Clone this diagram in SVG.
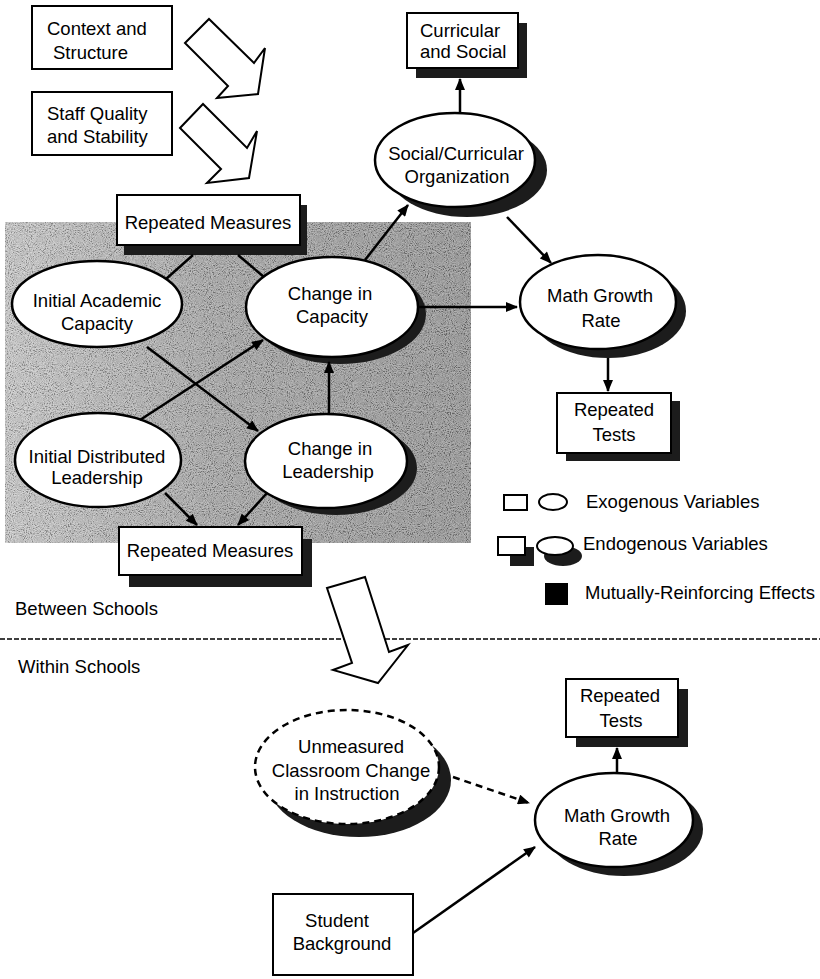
<svg xmlns="http://www.w3.org/2000/svg" width="820" height="979" viewBox="0 0 820 979">
<defs>
<style>
.t{font-family:"Liberation Sans",Arial,sans-serif;font-size:18.5px;fill:#000}
.c{text-anchor:middle}
.box{fill:#fff;stroke:#000;stroke-width:2}
.ell{fill:#fff;stroke:#000;stroke-width:2.5}
.sh{fill:#1c1c1c}
.ln{fill:none;stroke:#000;stroke-width:2.5}
.ar{fill:none;stroke:#000;stroke-width:2.5;marker-end:url(#ah)}
.blk{fill:#fff;stroke:#000;stroke-width:2;stroke-linejoin:miter}
</style>
<marker id="ah" viewBox="0 0 12 10" markerWidth="13" markerHeight="10" refX="11" refY="5" orient="auto" markerUnits="userSpaceOnUse">
<path d="M0,0 L12,5 L0,10 z" fill="#000"/>
</marker>
<linearGradient id="gg" x1="0" y1="0" x2="1" y2="0">
<stop offset="0" stop-color="#c8c8c8"/>
<stop offset="0.45" stop-color="#a2a2a2"/>
<stop offset="1" stop-color="#909090"/>
</linearGradient>
<filter id="noise" x="0" y="0" width="100%" height="100%">
<feTurbulence type="fractalNoise" baseFrequency="0.95" numOctaves="2" seed="4" result="t"/>
<feColorMatrix in="t" type="matrix" values="0.33 0.33 0.33 0 0  0.33 0.33 0.33 0 0  0.33 0.33 0.33 0 0  0 0 0 0 1" result="g"/>
<feComponentTransfer in="g">
<feFuncR type="linear" slope="4" intercept="-1.5"/>
<feFuncG type="linear" slope="4" intercept="-1.5"/>
<feFuncB type="linear" slope="4" intercept="-1.5"/>
</feComponentTransfer>
</filter>
</defs>
<rect x="0" y="0" width="820" height="979" fill="#fff"/>

<g id="between-schools-panel">
<rect x="5" y="222" width="466" height="321" fill="url(#gg)"/>
<rect x="5" y="222" width="466" height="321" filter="url(#noise)" opacity="0.3"/>
</g>

<g id="separator">
<line x1="0" y1="639" x2="820" y2="639" stroke="#000" stroke-width="1.6" stroke-dasharray="5,2"/>
<text class="t" x="15" y="615">Between Schools</text>
<text class="t" x="18" y="673">Within Schools</text>
</g>

<g id="context">
<rect class="box" x="32" y="6" width="140" height="63"/>
<text class="t" x="47" y="35">Context and</text>
<text class="t" x="53" y="59">Structure</text>
</g>
<g id="staff">
<rect class="box" x="32" y="92" width="140" height="63"/>
<text class="t" x="47" y="120">Staff Quality</text>
<text class="t" x="47" y="143">and Stability</text>
</g>

<g id="curricular-social">
<rect class="sh" x="416" y="23" width="111" height="55"/>
<rect class="box" x="407" y="13" width="111" height="55"/>
<text class="t" x="420" y="37">Curricular</text>
<text class="t" x="420" y="58">and Social</text>
</g>

<g id="social-curricular-org">
<ellipse class="sh" cx="467" cy="170" rx="80" ry="47"/>
<ellipse class="ell" cx="455" cy="160" rx="80" ry="47"/>
<text class="t c" x="456" y="160">Social/Curricular</text>
<text class="t c" x="457" y="183">Organization</text>
</g>

<g id="repeated-measures-top">
<rect class="sh" x="124" y="205" width="183" height="50"/>
<rect class="box" x="117" y="195" width="183" height="50"/>
<text class="t c" x="208" y="229">Repeated Measures</text>
</g>

<g id="initial-academic">
<ellipse class="ell" cx="97" cy="304" rx="85" ry="43"/>
<text class="t c" x="97" y="307">Initial Academic</text>
<text class="t c" x="97" y="330">Capacity</text>
</g>

<g id="change-capacity">
<ellipse class="sh" cx="340" cy="314" rx="86" ry="50"/>
<ellipse class="ell" cx="332" cy="307" rx="86" ry="50"/>
<text class="t c" x="330" y="300">Change in</text>
<text class="t c" x="332" y="323">Capacity</text>
</g>

<g id="initial-leadership">
<ellipse class="ell" cx="98" cy="460" rx="83" ry="47"/>
<text class="t c" x="97" y="463">Initial Distributed</text>
<text class="t c" x="97" y="484">Leadership</text>
</g>

<g id="change-leadership">
<ellipse class="sh" cx="336" cy="468" rx="81" ry="47"/>
<ellipse class="ell" cx="326" cy="461" rx="81" ry="47"/>
<text class="t c" x="330" y="455">Change in</text>
<text class="t c" x="328" y="478">Leadership</text>
</g>

<g id="repeated-measures-bottom">
<rect class="sh" x="129" y="539" width="183" height="48"/>
<rect class="box" x="119" y="527" width="183" height="48"/>
<text class="t c" x="210" y="557">Repeated Measures</text>
</g>

<g id="math-growth-top">
<ellipse class="sh" cx="608" cy="311" rx="78" ry="47"/>
<ellipse class="ell" cx="598" cy="302" rx="78" ry="47"/>
<text class="t c" x="600" y="302">Math Growth</text>
<text class="t c" x="601" y="327">Rate</text>
</g>

<g id="repeated-tests-top">
<rect class="sh" x="566" y="401" width="114" height="60"/>
<rect class="box" x="557" y="393" width="114" height="60"/>
<text class="t c" x="614" y="416">Repeated</text>
<text class="t c" x="614" y="441">Tests</text>
</g>

<g id="legend">
<rect class="box" x="504" y="495" width="23" height="15"/>
<ellipse class="ell" cx="553" cy="502" rx="14" ry="8" style="stroke-width:2"/>
<text class="t" x="586" y="508">Exogenous Variables</text>
<rect class="sh" x="510" y="547" width="24" height="19"/>
<rect class="box" x="498" y="537" width="27" height="18"/>
<ellipse class="sh" cx="563" cy="556" rx="19" ry="10"/>
<ellipse class="ell" cx="555" cy="546" rx="18" ry="9" style="stroke-width:2"/>
<text class="t" x="583" y="550">Endogenous Variables</text>
<rect x="545" y="583" width="23" height="22" fill="#000"/>
<text class="t" x="585" y="599">Mutually-Reinforcing Effects</text>
</g>

<g id="unmeasured">
<ellipse class="sh" cx="359" cy="780" rx="92" ry="57"/>
<ellipse cx="347" cy="767" rx="92" ry="57" fill="#fff" stroke="#000" stroke-width="2.5" stroke-dasharray="7,5"/>
<text class="t c" x="351" y="753">Unmeasured</text>
<text class="t c" x="351" y="777">Classroom Change</text>
<text class="t c" x="347" y="800">in Instruction</text>
</g>

<g id="repeated-tests-bottom">
<rect class="sh" x="576" y="689" width="112" height="58"/>
<rect class="box" x="566" y="679" width="112" height="58"/>
<text class="t c" x="620" y="702">Repeated</text>
<text class="t c" x="621" y="727">Tests</text>
</g>

<g id="math-growth-bottom">
<ellipse class="sh" cx="624" cy="829" rx="79" ry="47"/>
<ellipse class="ell" cx="614" cy="820" rx="79" ry="47"/>
<text class="t c" x="617" y="822">Math Growth</text>
<text class="t c" x="618" y="845">Rate</text>
</g>

<g id="student-background">
<rect class="box" x="273" y="894" width="140" height="81"/>
<text class="t c" x="337" y="927">Student</text>
<text class="t c" x="342" y="950">Background</text>
</g>

<g id="connectors">
<polygon class="blk" points="185,43 209,19 254,63 265,48 258,94 217,98 228,86"/>
<polygon class="blk" points="180,128 203,104 247,148 257,131 249,178 207,183 221,169"/>
<polygon class="blk" points="327,588 365,577 389,652 408,645 378,683 333,670 352,663"/>
<line class="ar" x1="460" y1="112" x2="460" y2="79"/>
<line class="ln" x1="193" y1="255" x2="166" y2="279"/>
<line class="ln" x1="238" y1="255" x2="264" y2="277"/>
<line class="ar" x1="365" y1="260" x2="408" y2="205"/>
<line class="ar" x1="418" y1="307" x2="517" y2="307"/>
<line class="ar" x1="147" y1="347" x2="258" y2="431"/>
<line class="ar" x1="140" y1="420" x2="263" y2="340"/>
<line class="ar" x1="329" y1="415" x2="329" y2="362"/>
<line class="ar" x1="165" y1="493" x2="197" y2="525"/>
<line class="ar" x1="267" y1="493" x2="238" y2="525"/>
<line class="ar" x1="507" y1="217" x2="551" y2="263"/>
<line class="ar" x1="608" y1="358" x2="608" y2="391"/>
<line class="ar" x1="617" y1="773" x2="617" y2="748"/>
<line class="ar" x1="453" y1="777" x2="529" y2="803" stroke-dasharray="7,5"/>
<line class="ar" x1="413" y1="933" x2="535" y2="847"/>
</g>
</svg>
